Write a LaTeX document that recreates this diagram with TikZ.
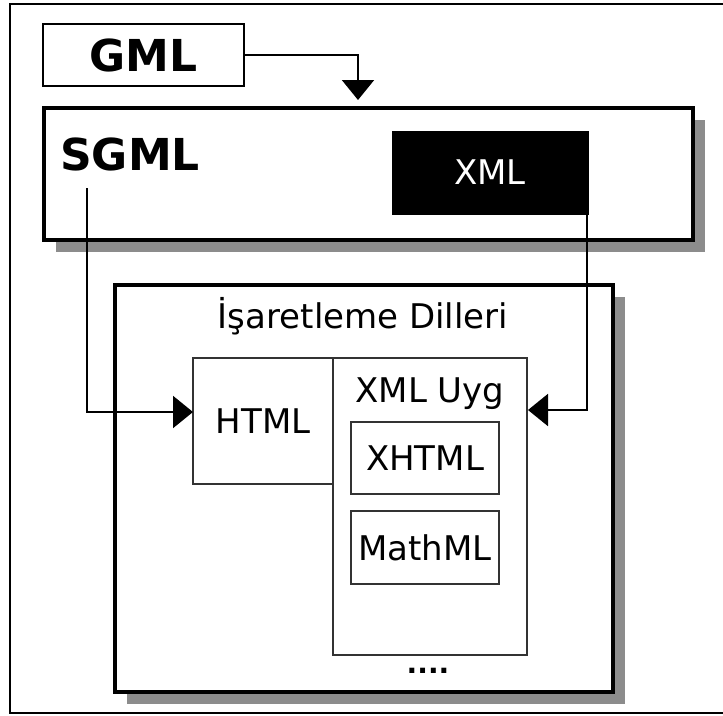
\documentclass[tikz,border=0pt]{standalone}
\usepackage{fontspec}
\setmainfont{DejaVu Sans}
\usetikzlibrary{arrows.meta,shadows}

\begin{document}
\begin{tikzpicture}[x=1pt,y=-1pt,
  box/.style={draw,fill=white,rectangle,inner sep=0pt},
  thinbox/.style={box,line width=1.5pt,draw=black!80},
  thickbox/.style={box,line width=4.5pt,drop shadow={shadow xshift=12pt,shadow yshift=-12pt,fill=black!45,opacity=1}},
  conn/.style={line width=2pt,-{Triangle[length=20pt,width=32pt]}},
  big/.style={font=\fontsize{44}{50}\selectfont\bfseries},
  txt/.style={font=\fontsize{34}{40}\selectfont}]
  \useasboundingbox (0,0) rectangle (723,715);
  \clip (0,0) rectangle (723,715);
  \draw[line width=2pt] (10,4) rectangle (740,713);

\node[box,line width=2pt,minimum width=201pt,minimum height=62pt,big] (gml) at (143.5,55) {GML};
\node[thickbox,minimum width=649pt,minimum height=132pt] (sgmlbox) at (368.5,174) {};
\node[big,anchor=base west,inner sep=0pt] (sgml) at (60,170) {SGML};
\node[box,fill=black,text=white,txt,minimum width=196pt,minimum height=83pt] (xml) at (490,172.5) {XML};

\node[thickbox,minimum width=498pt,minimum height=407pt] (diller) at (364,488.5) {};
\node[txt,anchor=base,inner sep=0pt] (title) at (363,328) {İşaretleme Dilleri};
\node[thinbox,minimum width=194pt,minimum height=297pt] (uyg) at (430,506.5) {};
\node[thinbox,txt,minimum width=140pt,minimum height=126pt] (html) at (263,421) {HTML};
\node[txt,anchor=base,inner sep=0pt] (uygtxt) at (430,402) {XML Uyg};
\node[thinbox,txt,minimum width=148pt,minimum height=72pt] (xhtml) at (425,458) {XHTML};
\node[thinbox,txt,minimum width=148pt,minimum height=73pt] (mathml) at (425,547.5) {MathML};
\node[font=\fontsize{28}{30}\selectfont\bfseries,anchor=base,inner sep=0pt] (dots) at (428,673) {....};

\coordinate (gmlin) at (358,100);
\coordinate (sgmlout) at (87,188);
\coordinate (htmlin) at (193,412);
\coordinate (xmlout) at (587,214);
\coordinate (uygin) at (528,410);
\draw[conn] (gml.east) -| (gmlin);
\draw[conn] (sgmlout) |- (htmlin);
\draw[conn] (xmlout) |- (uygin);

\end{tikzpicture}
\end{document}
